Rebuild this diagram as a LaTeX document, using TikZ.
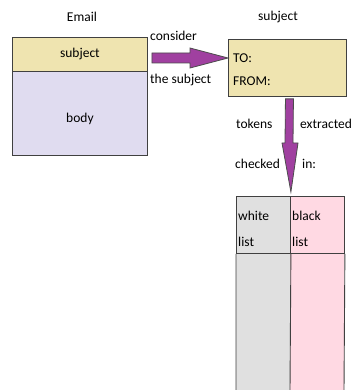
\documentclass[tikz,border=0pt]{standalone}
\usepackage{fontspec}
\setmainfont{Carlito}
\usetikzlibrary{calc}
\definecolor{subjfill}{HTML}{EFE4B0}
\definecolor{bodyfill}{HTML}{E0DCF0}
\definecolor{whitefill}{HTML}{E0E0E0}
\definecolor{blackfill}{HTML}{FFD9E3}
\definecolor{arrowfill}{HTML}{A040A0}
\definecolor{edge}{HTML}{404040}
\begin{document}
\begin{tikzpicture}[x=1pt,y=-1pt,
  every node/.style={font=\fontsize{13.5}{16}\selectfont, text=black},
  box/.style={draw=edge, line width=0.9pt, inner sep=0pt},
  lbl/.style={inner sep=0pt, anchor=base west},
  fatarrow/.style={fill=arrowfill, draw=black!70, line width=0.8pt}]
\useasboundingbox (0,0) rectangle (353,390);
% Email
\node[inner sep=0pt] (emaillbl) at (82,17) {Email};
\node[box, fill=subjfill, minimum width=135pt, minimum height=34pt, anchor=north west] (esubj) at (12,37) {subject};
\node[box, fill=bodyfill, minimum width=135pt, minimum height=84pt, anchor=north west] (ebody) at (12,71) {};
\node[inner sep=0pt] (bodytxt) at ($(ebody.center)+(0,5)$) {body};
% subject box
\node[inner sep=0pt] (subjlbl) at (278,17) {subject};
\node[box, fill=subjfill, minimum width=118pt, minimum height=57pt, anchor=north west] (sbox) at (228,39) {};
\node[lbl] (to) at (233,63) {TO:};
\node[lbl] (from) at (233,86) {FROM:};
% horizontal arrow (from Email subject to subject box)
\coordinate (h0) at ($(esubj.east)+(4,0)$);
\fill[fatarrow] (h0 |- 0,53) -- (190,53) -- (190,48) -- (sbox.west |- 0,58) -- (190,68) -- (190,63) -- (h0 |- 0,63) -- cycle;
\node[lbl] (consider) at (150,41) {consider};
\node[lbl] (thesubj) at (150,84) {the subject};
% table
\fill[whitefill] (236,196) rectangle (290,390);
\fill[blackfill] (290,196) rectangle (344,390);
\node[box, minimum width=54pt, minimum height=57pt, anchor=north west] (white) at (236,196) {};
\node[box, minimum width=54pt, minimum height=57pt, anchor=north west] (black) at (290,196) {};
\draw[edge, line width=0.9pt] (white.south west) -- (236,390) (white.south east) -- (290,390) (black.south east) -- (344,390);
\node[lbl] at (238,220) {white};
\node[lbl] at (238,246) {list};
\node[lbl] at (292,220) {black};
\node[lbl] at (292,246) {list};
% vertical arrow (from subject box down to table)
\coordinate (v0) at ($(sbox.south)+(2,2)$);
\coordinate (v1) at ($(white.north east)+(0,-4)$);
\fill[fatarrow] ($(v0)+(-4,0)$) -- ($(v0)+(4,0)$) -- (293,143) -- (298,143) -- (v1) -- (282,143) -- (285,143) -- cycle;
\node[lbl] (tokens) at (236,129) {tokens};
\node[lbl] (extracted) at (300,129) {extracted};
\node[lbl] (checked) at (235,168) {checked};
\node[lbl] (in) at (302,168) {in:};
\end{tikzpicture}
\end{document}
